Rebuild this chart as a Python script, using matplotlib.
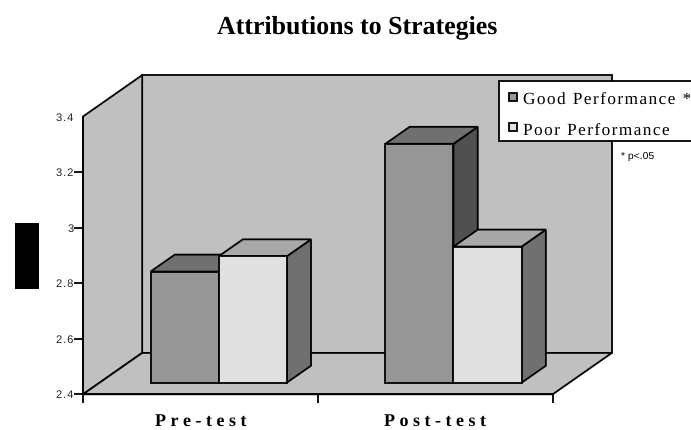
# Attributions to Strategies: pseudo-3D clustered columns on a value axis.
import matplotlib
matplotlib.use("Agg")
import matplotlib.pyplot as plt
from matplotlib.legend_handler import HandlerPatch
from matplotlib.patches import Patch, Polygon, Rectangle

plt.rcParams["text.hinting"] = "none"

# ── Data ─────────────────────────────────────────────
CATEGORIES = ["Pre-test", "Post-test"]
GOOD_PERF = [2.80, 3.26]
POOR_PERF = [2.855, 2.89]
SERIES_NAMES = ["Good Performance *", "Poor Performance"]
Y_TICKS = [2.4, 2.6, 2.8, 3.0, 3.2, 3.4]
Y_LABELS = ["2.4", "2.6", "2.8", "3", "3.2", "3.4"]

# ── Style ────────────────────────────────────────────
WALL = "#c0c0c0"
GOOD_FACES = ("#969696", "#707070", "#505050")  # front, top, side
POOR_FACES = ("#e0e0e0", "#a8a8a8", "#707070")
LW = 1.3

W, H = 691, 430
# depth of the box, in axis units
DEPTH_X = 0.252
DEPTH_Y = 0.149
# bars occupy this slice of the depth
BAR_D0, BAR_D1 = 0.28, 0.69
BAR_W = 0.29
BAR_GAP = 0.217


def spaced(text, n=1):
    # hair spaces between letters for the stretched labels
    return ("\u200a" * n).join(text)


def poly(ax, pts, color, z):
    ax.add_patch(Polygon(pts, closed=True, facecolor=color, edgecolor="black",
                         linewidth=LW, joinstyle="miter", clip_on=False, zorder=z))


def draw_box(ax):
    dx, dy = DEPTH_X, DEPTH_Y
    y0, y1 = Y_TICKS[0], Y_TICKS[-1]
    poly(ax, [(dx, y0 + dy), (2 + dx, y0 + dy), (2 + dx, y1 + dy), (dx, y1 + dy)], WALL, 1)
    poly(ax, [(0, y0), (dx, y0 + dy), (dx, y1 + dy), (0, y1)], WALL, 1.1)
    poly(ax, [(0, y0), (2, y0), (2 + dx, y0 + dy), (dx, y0 + dy)], WALL, 1.2)


def draw_bar(ax, x, value, faces, z):
    base = Y_TICKS[0]
    x0 = x + BAR_D0 * DEPTH_X
    x1 = x0 + BAR_W
    y0 = base + BAR_D0 * DEPTH_Y
    top = value + BAR_D0 * DEPTH_Y
    ox = (BAR_D1 - BAR_D0) * DEPTH_X
    oy = (BAR_D1 - BAR_D0) * DEPTH_Y
    poly(ax, [(x1, y0), (x1 + ox, y0 + oy), (x1 + ox, top + oy), (x1, top)], faces[2], z)
    poly(ax, [(x0, top), (x1, top), (x1 + ox, top + oy), (x0 + ox, top + oy)], faces[1], z)
    poly(ax, [(x0, y0), (x1, y0), (x1, top), (x0, top)], faces[0], z + 0.1)


def legend_swatch(legend, orig_handle, xdescent, ydescent, width, height, fontsize):
    # small square inside the handle box, nudged above the text centre
    side = 6
    return Rectangle((width - side - 2.2, (height - side) / 2 + 2), side, side)


fig = plt.figure(figsize=(W / 100, H / 100), dpi=100, facecolor="white")
ax = fig.add_axes([83 / W, 1 - 394.3 / H, (552.7 - 83) / W, (394.3 - 116.5) / H])
ax.set_xlim(0, 2)
ax.set_ylim(Y_TICKS[0], Y_TICKS[-1])
ax.patch.set_visible(False)

draw_box(ax)
for i in range(len(CATEGORIES)):
    draw_bar(ax, i + BAR_GAP, GOOD_PERF[i], GOOD_FACES, 3)
    draw_bar(ax, i + BAR_GAP + BAR_W, POOR_PERF[i], POOR_FACES, 4)

# ── Axes ─────────────────────────────────────────────
for side in ("top", "right"):
    ax.spines[side].set_visible(False)
for side in ("left", "bottom"):
    ax.spines[side].set_linewidth(LW)
    ax.spines[side].set_zorder(2)

ax.set_yticks(Y_TICKS)
ax.set_yticklabels([spaced(s) for s in Y_LABELS], fontfamily="Liberation Sans",
                   fontsize=8, color="#222222")
ax.tick_params(axis="y", length=6.5, width=LW, pad=0.5)
ax.yaxis.get_major_ticks()[-1].tick1line.set_visible(False)
ax.set_xticks([0, 1, 2])
ax.set_xticklabels([])
ax.tick_params(axis="x", length=6.5, width=LW)
ax.set_xticks([0.5, 1.5], minor=True)
ax.set_xticklabels([spaced(c, 3) for c in CATEGORIES], minor=True,
                   fontfamily="Liberation Serif", fontweight="bold", fontsize=13)
ax.tick_params(axis="x", which="minor", length=0, pad=14)

# ── Text and legend ──────────────────────────────────
fig.text(357.5 / W, 1 - 27.5 / H, "Attributions to Strategies", ha="center", va="center",
         fontfamily="Liberation Serif", fontweight="bold", fontsize=18.6)
fig.text(621 / W, 1 - 157 / H, "* p<.05", ha="left", va="center",
         fontfamily="Liberation Sans", fontsize=7.5)

# legend box runs off the right edge of the figure
fig.add_artist(Rectangle((498.7 / W, 1 - 140.7 / H), 220 / W, 59.7 / H,
                         transform=fig.transFigure, facecolor="white", edgecolor="black",
                         linewidth=LW, zorder=9))
handles = [Patch(facecolor=GOOD_FACES[0], edgecolor="black", linewidth=LW),
           Patch(facecolor=POOR_FACES[0], edgecolor="black", linewidth=LW)]
leg = fig.legend(handles, [spaced(s) for s in SERIES_NAMES],
                 handler_map={Patch: HandlerPatch(patch_func=legend_swatch)},
                 loc="upper left", bbox_to_anchor=(506.5 / W, 1 - 93.5 / H),
                 bbox_transform=fig.transFigure, borderaxespad=0, frameon=False,
                 prop={"family": "Liberation Serif", "size": 12.45},
                 handlelength=0.8, handleheight=0.6, handletextpad=0.18,
                 labelspacing=0.86, borderpad=0)
leg.set_zorder(10)

# black block at the left of the value axis
fig.add_artist(Rectangle((15 / W, 1 - 289 / H), 24 / W, 66 / H,
                         transform=fig.transFigure, facecolor="black", edgecolor="none"))

fig.savefig("out.png", dpi=100)
